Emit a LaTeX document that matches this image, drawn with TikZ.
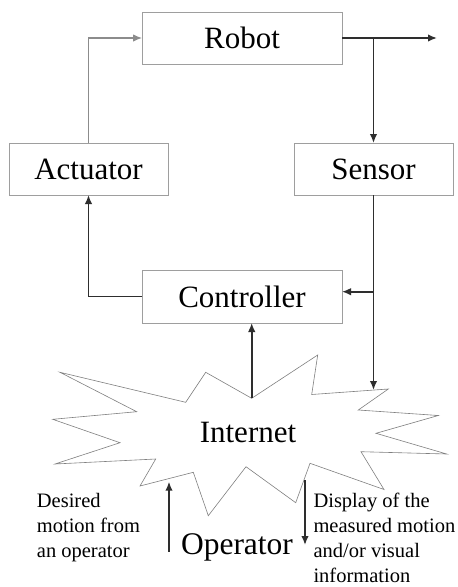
\documentclass[tikz,border=0pt]{standalone}
\usepackage{fontspec}
\setmainfont{Liberation Serif}
\usetikzlibrary{arrows.meta}
\definecolor{boxgray}{gray}{0.62}
\definecolor{linkdark}{gray}{0.18}
\definecolor{linklight}{gray}{0.55}
\definecolor{stargray}{gray}{0.5}
\begin{document}
\begin{tikzpicture}[x=1pt,y=-1pt,
  block/.style={draw=boxgray, line width=0.7pt, inner sep=0pt, outer sep=0pt,
    minimum height=52pt, font=\fontsize{31}{36}\selectfont},
  link/.style={draw=linkdark, line width=1.6pt, -{Latex[length=9pt,width=7.5pt]}},
  lightlink/.style={link, draw=linklight, line width=1.1pt},
  bigtext/.style={inner sep=0pt, font=\fontsize{31}{36}\selectfont},
  note/.style={inner sep=0pt, align=left, anchor=north west,
    font=\fontsize{20.5}{25}\selectfont},
]
% canvas
\fill[white] (0,0) rectangle (458,587);
\useasboundingbox (0,0) rectangle (458,587);

% blocks
\node[block, minimum width=200pt] (robot) at (242,38) {Robot};
\node[block, minimum width=159pt] (actuator) at (88.5,169) {Actuator};
\node[block, minimum width=159pt] (sensor) at (373.5,169) {Sensor};
\node[block, minimum width=200pt, minimum height=53pt] (controller) at (242,296.5) {Controller};

% the Internet cloud as a starburst
\draw[stargray, line width=0.6pt, line join=miter]
  (60,372.3) -- (185.7,402.3) -- (205.7,372.3) -- (251.7,398.3)
  -- (317.7,355) -- (311.7,394.5) -- (388.3,389) -- (358.3,410)
  -- (438.3,415.5) -- (376,433.3) -- (446.7,454) -- (361,451.7)
  -- (384,489.5) -- (310,463.3) -- (295.7,502.7) -- (246,466.7)
  -- (208.3,515.7) -- (193.3,472.3) -- (140,486) -- (155.7,459)
  -- (55,464) -- (120,442.7) -- (52.7,419.3) -- (136.7,411.7) -- cycle;
\node[bigtext] (internet) at (248,432.5) {Internet};
\coordinate (nettop) at (251.7,398.3);
\coordinate (netright) at (373.5,390);

% operator and its links
\node[bigtext, anchor=base, font=\fontsize{31.5}{36}\selectfont] (operator) at (237,554) {Operator};
\coordinate (opup) at (169,551.7);
\coordinate (netin) at (169,481.7);
\coordinate (netout) at (305,480);
\coordinate (opdown) at (305,545);

% feedback loop
\coordinate (robotout) at (437,38);
\coordinate (tap) at (373.5,38);
\coordinate (senstap) at (373.5,291.7);
\draw[lightlink] (actuator.north) |- (robot.west);
\draw[link] (robot.east) -- (robotout);
\draw[link] (tap) -- (sensor.north);
\draw[link] (sensor.south) -- (netright);
\draw[link] (senstap) -- (senstap -| controller.east);
\draw[link] (controller.west) -| (actuator.south);
\draw[link] (nettop) -- (nettop |- controller.south);
\draw[link] (opup) -- (netin);
\draw[link] (netout) -- (opdown);

% notes beside the operator
\node[note] (desired) at (36.7,493) {Desired\\motion from\\an operator};
\node[note] (display) at (313.3,492.8) {Display of the\\measured motion\\and/or visual\\information};
\end{tikzpicture}
\end{document}
